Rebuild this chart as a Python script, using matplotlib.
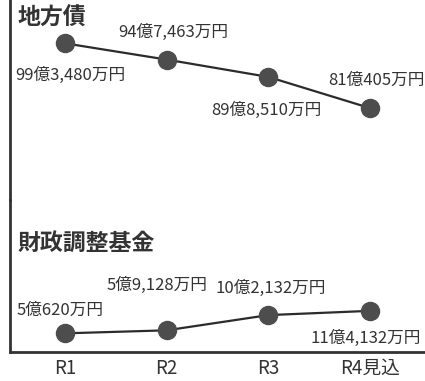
import matplotlib
matplotlib.use("Agg")
import matplotlib.pyplot as plt

plt.rcParams['font.family'] = ['Noto Sans CJK JP', 'DejaVu Sans']

# Data
categories = ["R1", "R2", "R3", "R4見込"]
bond_values = [99.3480, 94.7463, 89.8510, 81.0405]          # 億円
bond_labels = ["99億3,480万円", "94億7,463万円", "89億8,510万円", "81億405万円"]
fund_values = [5.0620, 5.9128, 10.2132, 11.4132]           # 億円
fund_labels = ["5億620万円", "5億9,128万円", "10億2,132万円", "11億4,132万円"]
title_bond = "地方債"
title_fund = "財政調整基金"

# Label offsets (points)
bond_offsets = [(4, -23), (5, 19.5), (-1.5, -24), (4.5, 20)]
fund_offsets = [(-3.5, 16.5), (-7, 32.5), (2, 19.5), (-3, -19.5)]

TEXT = "#333333"
LINE = "#2b2b2b"
MARK = "#4d4d4d"

fig = plt.figure(figsize=(4.25, 3.81), dpi=100)
W, H = 425, 381
left = 10 / W
width = 1 - left
ax_top = fig.add_axes([left, (H - 200) / H, width, 200 / H])
ax_bot = fig.add_axes([left, (H - 352) / H, width, 152 / H])

x = list(range(len(categories)))

def draw(ax, vals, labels, offsets):
    ax.plot(x, vals, color=LINE, lw=1.6, zorder=2)
    ax.plot(x, vals, 'o', ms=13, color=MARK, mec=MARK, zorder=3)
    for xi, v, lab, off in zip(x, vals, labels, offsets):
        ax.annotate(lab, (xi, v), xytext=off, textcoords='offset points',
                    ha='center', va='center', fontsize=12, color=TEXT)
    ax.set_xlim(-0.54, 3.54)
    ax.patch.set_alpha(0)
    for s in ['top', 'right']:
        ax.spines[s].set_visible(False)
    ax.spines['left'].set_color(TEXT)
    ax.spines['left'].set_linewidth(2)
    ax.set_yticks([])

draw(ax_top, bond_values, bond_labels, bond_offsets)
draw(ax_bot, fund_values, fund_labels, fund_offsets)

ax_top.set_ylim(55.09, 111.58)
ax_bot.set_ylim(-0.21, 42.73)

ax_top.spines['bottom'].set_visible(False)
ax_top.set_xticks([])

ax_bot.spines['bottom'].set_color(TEXT)
ax_bot.spines['bottom'].set_linewidth(2)
ax_bot.set_xticks(x)
ax_bot.set_xticklabels(categories, fontsize=13.5, color=TEXT)
ax_bot.tick_params(axis='x', length=0, pad=4)

ax_top.text(8 / 415, 0.91, title_bond, transform=ax_top.transAxes,
            ha='left', va='center', fontsize=16.5, fontweight='bold', color=TEXT)
ax_bot.text(8 / 415, 0.717, title_fund, transform=ax_bot.transAxes,
            ha='left', va='center', fontsize=16.5, fontweight='bold', color=TEXT)

fig.savefig("out.png", dpi=100)
